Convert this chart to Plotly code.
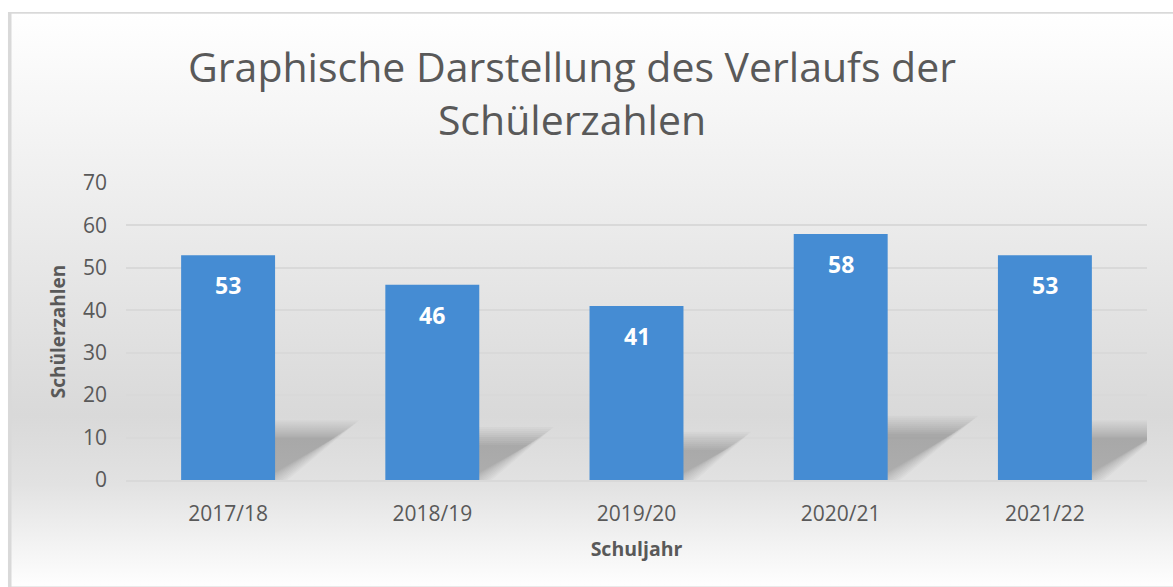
import base64
import plotly.graph_objects as go

# ---- data ----
schuljahre = ["2017/18", "2018/19", "2019/20", "2020/21", "2021/22"]
schuelerzahlen = [53, 46, 41, 58, 53]
y_ticks = [0, 10, 20, 30, 40, 50, 60, 70]

title_text = "Graphische Darstellung des Verlaufs der<br>Schülerzahlen"
x_title = "Schuljahr"
y_title = "Schülerzahlen"

FONT = "Open Sans"
GREY = "#595959"

# ---- background gradient (decorative) ----
svg = """<svg xmlns='http://www.w3.org/2000/svg' width='100' height='100' preserveAspectRatio='none'>
<defs><linearGradient id='g' x1='0' y1='0' x2='0' y2='1'>
<stop offset='0' stop-color='#ffffff'/>
<stop offset='0.28' stop-color='#f0f0f0'/>
<stop offset='0.7' stop-color='#d9d9d9'/>
<stop offset='0.82' stop-color='#e2e2e2'/>
<stop offset='1' stop-color='#ffffff'/>
</linearGradient></defs>
<rect x='0' y='0' width='100' height='100' fill='url(#g)' stroke='#d9d9d9' stroke-width='0.6'/>
</svg>"""
svg_uri = "data:image/svg+xml;base64," + base64.b64encode(svg.encode()).decode()

fig = go.Figure()
fig.add_trace(go.Bar(
    x=list(range(len(schuljahre))),
    y=schuelerzahlen,
    marker=dict(color="#458cd3", line=dict(width=0)),
    hoverinfo="skip",
))

# value labels placed inside the top of each bar
annotations = [
    dict(x=i, y=v, xref="x", yref="y", text=f"<b>{v}</b>", showarrow=False,
         yshift=-30, yanchor="middle",
         font=dict(family=FONT, size=23, color="white"))
    for i, v in enumerate(schuelerzahlen)
]

# soft perspective shadows derived from the bar values
PX_X = 1 / 204.0     # category units per pixel (approx.)
PX_Y = 1 / 4.243     # data units per pixel (approx.)
shapes = []
half = 0.23
for i, v in enumerate(schuelerzahlen):
    h = v * 0.225
    dx = v * 0.0066
    R = i + half
    for s in range(9, -10, -2):
        sx = s * 1.4 * PX_X
        sy = s * PX_Y
        path = (f"M {R - 0.03},0 L {R + sx},0 "
                f"L {R + dx + sx},{h + sy} L {R - 0.03},{h + sy} Z")
        shapes.append(dict(type="path", path=path, xref="x", yref="y",
                           fillcolor="rgba(0,0,0,0.024)", line=dict(width=0),
                           layer="between"))

fig.update_layout(
    width=1173, height=587,
    margin=dict(l=126, r=26, t=183, b=107, autoexpand=False),
    paper_bgcolor="white",
    plot_bgcolor="rgba(0,0,0,0)",
    showlegend=False,
    bargap=0.54,
    title=dict(text=title_text, x=572 / 1173, xanchor="center", xref="container",
               y=1 - 82 / 587, yanchor="middle", yref="container",
               font=dict(family=FONT, size=41, color=GREY)),
    font=dict(family=FONT, color=GREY),
    xaxis=dict(
        tickmode="array", tickvals=list(range(len(schuljahre))), ticktext=schuljahre,
        range=[-0.5, len(schuljahre) - 0.5],
        tickfont=dict(size=21, color=GREY), ticks="", ticklabelstandoff=14,
        showgrid=False, showline=True, linecolor="#d9d9d9", linewidth=1.5,
        title=dict(text=x_title, font=dict(size=19.5, color=GREY, weight="bold"), standoff=16),
        zeroline=False,
    ),
    yaxis=dict(
        range=[0, 70], tickmode="array", tickvals=y_ticks,
        tickfont=dict(size=21, color=GREY), ticks="", ticklabelstandoff=18,
        showgrid=True, gridcolor="#d9d9d9", gridwidth=1.5,
        zeroline=False, showline=False,
        title=dict(text=y_title, font=dict(size=19, color=GREY, weight="bold"), standoff=12),
    ),
    shapes=shapes,
    annotations=annotations,
    images=[dict(source=svg_uri, xref="paper", yref="paper",
                 x=-0.1156, y=1.5758, sizex=1.15, sizey=1.94,
                 xanchor="left", yanchor="top", sizing="stretch", layer="below")],
)

fig.write_html("out.html", config={"displayModeBar": False},
               post_script="document.body.style.margin='0';")
